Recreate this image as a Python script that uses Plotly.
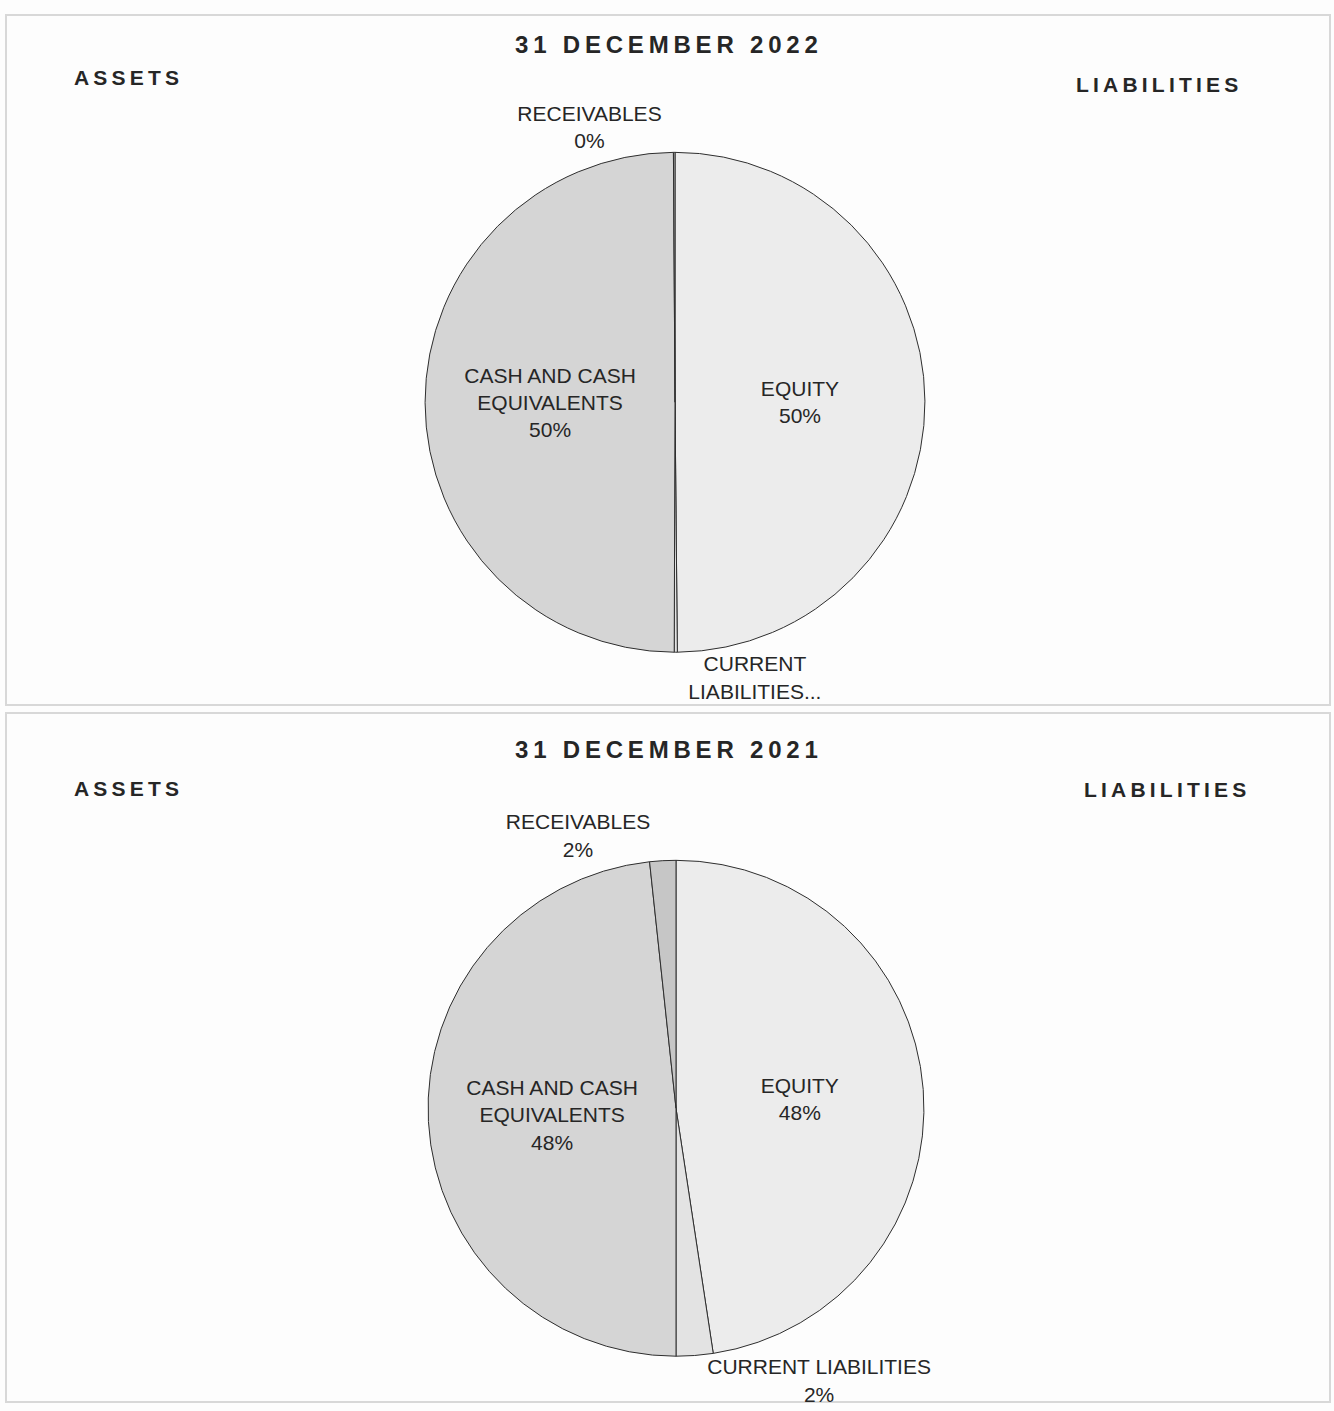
import plotly.graph_objects as go

# ---- data ----
slice_labels = ["EQUITY", "CURRENT LIABILITIES", "CASH AND CASH EQUIVALENTS", "RECEIVABLES"]
values_2022 = [50.0, 0.2, 50.0, 0.1]
values_2021 = [47.6, 2.4, 48.3, 1.7]
display_2022 = ["EQUITY", "CURRENT<br>LIABILITIES...", "CASH AND CASH<br>EQUIVALENTS", "RECEIVABLES"]
display_2021 = ["EQUITY", "CURRENT LIABILITIES", "CASH AND CASH<br>EQUIVALENTS", "RECEIVABLES"]
titles = ["31 DECEMBER 2022", "31 DECEMBER 2021"]
side_left = "ASSETS"
side_right = "LIABILITIES"

W, H = 1334, 1411
FONT = "Liberation Sans, Arial, Helvetica, sans-serif"
slice_colors = ["#ececec", "#e3e3e3", "#d5d5d5", "#c6c6c6"]


def spaced(s):
    return "\u2009".join(list(s))


def fx(px):
    return min(1.0, max(0.0, px / W))


def fy(py):
    return min(1.0, max(0.0, 1 - py / H))


def px_dom(x0, x1, y0, y1):
    return dict(x=[fx(x0), fx(x1)], y=[fy(y1), fy(y0)])


fig = go.Figure()

fig.add_trace(go.Pie(
    labels=slice_labels, values=values_2022, text=display_2022,
    texttemplate=["%{text}<br>%{percent:.0%}", "%{text}", "%{text}<br>%{percent:.0%}", "%{text}<br>%{percent:.0%}"],
    textposition=["inside", "outside", "inside", "outside"],
    sort=False, direction="clockwise", rotation=0,
    marker=dict(colors=slice_colors, line=dict(color="#2e2e2e", width=1)),
    textfont=dict(family=FONT, size=21, color="#262626"),
    insidetextorientation="horizontal",
    domain=px_dom(424, 926, 153, 655), showlegend=False, hoverinfo="label+percent",
))

fig.add_trace(go.Pie(
    labels=slice_labels, values=values_2021, text=display_2021,
    texttemplate="%{text}<br>%{percent:.0%}",
    textposition=["inside", "outside", "inside", "outside"],
    sort=False, direction="clockwise", rotation=0,
    marker=dict(colors=slice_colors, line=dict(color="#2e2e2e", width=1)),
    textfont=dict(family=FONT, size=21, color="#262626"),
    insidetextorientation="horizontal",
    domain=px_dom(427, 925, 864, 1362), showlegend=False, hoverinfo="label+percent",
))

# boxes
for (y0, y1) in [(15, 708), (716, 1408)]:
    fig.add_shape(type="rect", xref="paper", yref="paper",
                  x0=fx(6), x1=fx(1330), y0=fy(y1), y1=fy(y0),
                  line=dict(color="#d8d8d8", width=2), layer="below")

ann = []
for title, ty, ly, ry, rx in [(titles[0], 45, 78, 85, 1240), (titles[1], 753, 792, 793, 1248)]:
    ann.append(dict(text="<b>" + spaced(title) + "</b>", x=fx(666), y=fy(ty), xref="paper", yref="paper",
                    xanchor="center", yanchor="middle", showarrow=False,
                    font=dict(family=FONT, size=24, color="#262626")))
    ann.append(dict(text="<b>" + spaced(side_left) + "</b>", x=fx(72), y=fy(ly), xref="paper", yref="paper",
                    xanchor="left", yanchor="middle", showarrow=False,
                    font=dict(family=FONT, size=21, color="#262626")))
    ann.append(dict(text="<b>" + spaced(side_right) + "</b>", x=fx(rx), y=fy(ry), xref="paper", yref="paper",
                    xanchor="right", yanchor="middle", showarrow=False,
                    font=dict(family=FONT, size=21, color="#262626")))

fig.update_layout(
    width=W, height=H, margin=dict(l=0, r=0, t=0, b=0),
    paper_bgcolor="#fdfdfd", plot_bgcolor="#fdfdfd",
    annotations=ann,
)

fig.write_html("out.html", config={"displayModeBar": False},
               post_script="document.body.style.margin='0';document.body.style.overflow='hidden';")
